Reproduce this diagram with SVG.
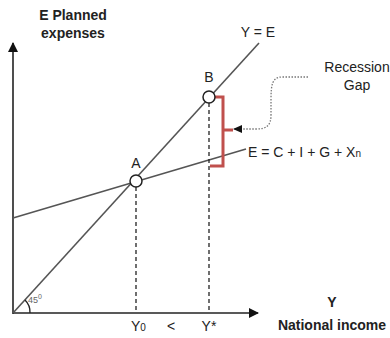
<svg xmlns="http://www.w3.org/2000/svg" width="390" height="338" viewBox="0 0 390 338">
<style>
text{font-family:"Liberation Sans",Arial,sans-serif;fill:#222}
.t{font-size:14px}
.b{font-size:14px;font-weight:bold}
.ln{stroke:#555;stroke-width:1.6;fill:none}
.ax{stroke:#222;stroke-width:1.6;fill:none}
.dash{stroke:#222;stroke-width:1.3;stroke-dasharray:4 3;fill:none}
.pt{fill:#fff;stroke:#222;stroke-width:1.5}
</style>
<defs>
<marker id="ah" markerWidth="10" markerHeight="10" refX="9" refY="5" orient="auto" markerUnits="userSpaceOnUse">
<path d="M0,0 L10,5 L0,10 Z" fill="#111"/>
</marker>
<marker id="ah2" markerWidth="9" markerHeight="8" refX="8" refY="4" orient="auto" markerUnits="userSpaceOnUse">
<path d="M0,0 L9,4 L0,8 Z" fill="#111"/>
</marker>
</defs>
<g id="connectors">
<line class="ax" x1="13" y1="314" x2="13" y2="43" marker-end="url(#ah)"/>
<line class="ax" x1="13" y1="313" x2="258" y2="313" marker-end="url(#ah)"/>
<line class="ln" x1="13" y1="313" x2="259" y2="43"/>
<line class="ln" x1="13" y1="218" x2="246" y2="149"/>
<line class="dash" x1="136" y1="187" x2="136" y2="312"/>
<line class="dash" x1="209" y1="103" x2="209" y2="312"/>
<path d="M210,97 H223 V166 H210 M223,130 H233" fill="none" stroke="#c0504d" stroke-width="3"/>
<path d="M308,77 H282 C272,77 271,85 271,100 V115 C271,126 266,129 256,129 H234" fill="none" stroke="#777" stroke-width="1.3" stroke-dasharray="1.5 1.5" marker-end="url(#ah2)"/>
<path d="M30,313 A17,17 0 0 0 25,300" fill="none" stroke="#222" stroke-width="1.3"/>
</g>
<g id="A"><circle class="pt" cx="136" cy="181" r="6"/><text class="t" x="136" y="168" text-anchor="middle">A</text></g>
<g id="B"><circle class="pt" cx="209" cy="97" r="6"/><text class="t" x="209" y="82" text-anchor="middle">B</text></g>
<g id="labels">
<text class="b" x="73" y="20" text-anchor="middle">E Planned</text>
<text class="b" x="73" y="38" text-anchor="middle">expenses</text>
<text class="t" x="258" y="37" text-anchor="middle">Y = E</text>
<text class="t" x="357" y="72" text-anchor="middle" font-size="13">Recession</text>
<text class="t" x="357" y="90" text-anchor="middle" font-size="13">Gap</text>
<text class="t" x="248" y="157">E = C + I + G + X<tspan font-size="10">n</tspan></text>
<text x="28" y="303" font-size="9" fill="#666" style="fill:#666">45<tspan dy="-4" font-size="7">0</tspan></text>
<text class="t" x="131" y="331" font-size="13">Y<tspan font-size="10">0</tspan></text>
<text class="t" x="171" y="331" text-anchor="middle" font-size="13">&lt;</text>
<text class="t" x="209" y="331" text-anchor="middle" font-size="13">Y*</text>
<text class="b" x="332" y="307" text-anchor="middle">Y</text>
<text class="b" x="332" y="330" text-anchor="middle">National income</text>
</g>
</svg>
